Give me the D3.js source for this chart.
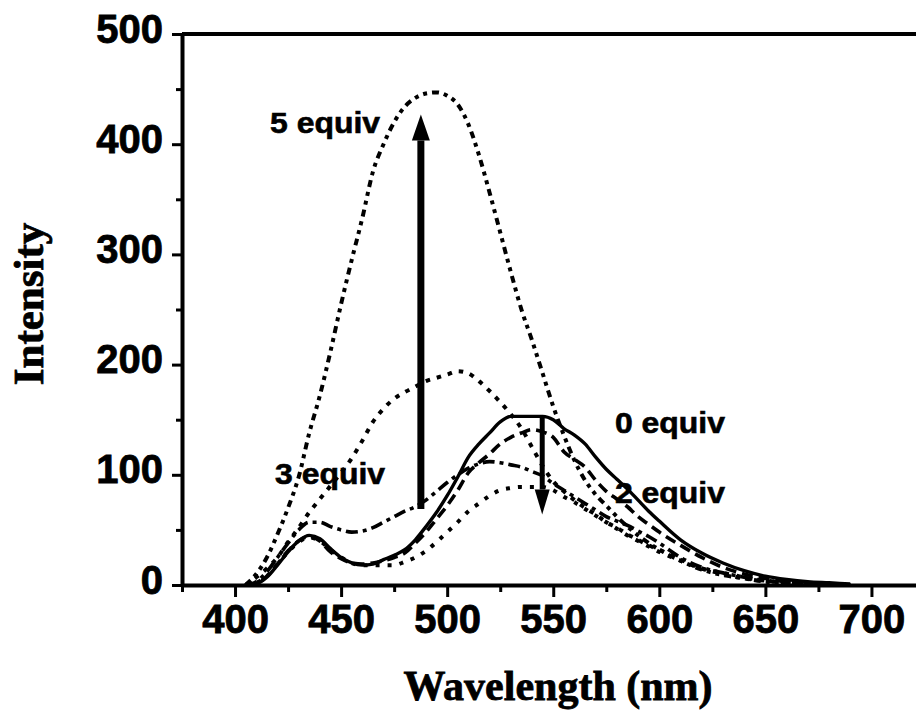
<!DOCTYPE html>
<html>
<head>
<meta charset="utf-8">
<script src="https://cdn.jsdelivr.net/npm/d3@7"></script>
<style>
  html, body { margin: 0; padding: 0; background: #fff; }
  svg { display: block; }
</style>
</head>
<body>
<svg id="chart" width="916" height="711"></svg>
<script>
// Wavelength grid (nm)
const wavelengths = [405,410,415,420,425,430,435,440,445,450,455,460,465,470,475,480,485,490,495,500,505,510,515,520,525,530,535,540,545,550,555,560,565,570,575,580,585,590,595,600,610,620,630,640,650,660,670,680,690];

const equiv0 = [0,1,7,18,30,40,45,42,33,25,20,18,19,23,27,32,41,53,66,81,98,116,128,138,148,153,153,153,153,150,142,136,128,116,105,96,87,77,67,58,41,29,20,13,8,5,3,2,1];
const equiv1 = [0,1,8,19,31,40,44,40,30,24,20,19,20,22,25,29,38,48,60,72,86,102,111,119,128,134,138,141,139,134,121,114,107,95,85,78,71,62,55,48,36,25,16,10,6,3,2,1,0];
const equiv2 = [0,2,8,19,30,39,43,40,32,25,20,18,18,18,18,21,25,31,39,48,57,67,74,81,86,88,89,89,89,86,80,75,69,63,57,51,45,40,35,30,22,15,11,7,4,2,1,0,0];
const equiv3 = [0,3,12,25,38,50,57,57,53,50,48,49,52,57,62,67,71,77,85,93,100,106,110,112,111,109,107,103,99,92,86,80,74,68,62,58,54,49,44,38,25,16,11,7,4,2,1,0,0];
const equiv4 = [0,7,15,25,39,52,66,78,90,102,115,131,148,160,169,175,180,185,188,191,194,192,185,176,166,155,142,125,108,94,85,77,70,64,57,52,46,41,36,32,23,15,10,6,4,2,1,0,0];
const equiv5 = [0,10,25,46,70,98,138,172,212,255,295,333,375,400,420,434,442,446,447,444,436,418,390,356,320,284,250,222,192,162,136,113,95,82,72,62,53,45,38,32,22,14,9,6,3,2,1,0,0];

const seriesNames = ["0 equiv","1 equiv","2 equiv","3 equiv","4 equiv","5 equiv"];
const seriesValues = [equiv0, equiv1, equiv2, equiv3, equiv4, equiv5];

const xMajorTicks = [400,450,500,550,600,650,700];
const xMinorTicks = [375,425,475,525,575,625,675];
const yMajorTicks = [0,100,200,300,400,500];
const yMinorTicks = [50,150,250,350,450];

const xTitle = "Wavelength (nm)";
const yTitle = "Intensity";

// annotation labels (wavelength, intensity at baseline-left)
const labelTexts = ["5 equiv","3 equiv","0 equiv","2 equiv"];
const labelWl    = [416.5, 418.9, 579.1, 579.1];
const labelInt   = [410, 92, 138, 74];

// arrows: [wavelength, from intensity, to intensity]
const arrowWl   = [487.6, 544.8];
const arrowFrom = [69, 152];
const arrowTo   = [427, 64];

// ---------------- drawing ----------------
const svg = d3.select("#chart");
const x = d3.scaleLinear().domain([375, 721]).range([182, 916]);
const y = d3.scaleLinear().domain([0, 500]).range([585, 34]);

const styles = [
  { dash: null, width: 3.4 },             // 0 equiv solid
  { dash: "11,6", width: 3.6 },           // 1 equiv dashed
  { dash: "4,8", width: 4 },              // 2 equiv dotted
  { dash: "12,5,4,5", width: 3.6 },       // 3 equiv dash-dot
  { dash: "4.5,7", width: 4 },            // 4 equiv sparse dots
  { dash: "7,5,4,5,4,5", width: 4 }       // 5 equiv dash-dot-dot
];

const line = d3.line()
  .x((d, i) => x(wavelengths[i]))
  .y(d => y(d))
  .curve(d3.curveMonotoneX);

const gLines = svg.append("g");
seriesValues.forEach((vals, k) => {
  gLines.append("path")
    .datum(vals)
    .attr("d", line)
    .attr("fill", "none")
    .attr("stroke", "#000")
    .attr("stroke-width", styles[k].width)
    .attr("stroke-dasharray", styles[k].dash)
    .attr("stroke-linejoin", "round");
});

// axes
const fontTick = "'Liberation Sans', Arial, sans-serif";
const xAxis = d3.axisBottom(x).tickValues(xMajorTicks).tickSize(12).tickSizeOuter(0).tickPadding(8).tickFormat(d3.format("d"));
const xAxisMinor = d3.axisBottom(x).tickValues(xMinorTicks).tickSize(7).tickSizeOuter(0).tickFormat("");
const yAxis = d3.axisLeft(y).tickValues(yMajorTicks).tickSize(10).tickSizeOuter(0).tickPadding(9).tickFormat(d3.format("d"));
const yAxisMinor = d3.axisLeft(y).tickValues(yMinorTicks).tickSize(6).tickSizeOuter(0).tickFormat("");

function styleAxis(g) {
  g.select(".domain").attr("stroke", "#000").attr("stroke-width", 4);
  g.selectAll(".tick line").attr("stroke", "#000").attr("stroke-width", 3);
  g.selectAll(".tick text")
    .attr("fill", "#000")
    .style("font-family", fontTick)
    .style("font-weight", "bold")
    .style("font-size", "40px")
    .attr("stroke", "#000")
    .attr("stroke-width", 0.8);
}

const gx = svg.append("g").attr("transform", `translate(0,${y(0)})`).call(xAxis).call(styleAxis);
const gxm = svg.append("g").attr("transform", `translate(0,${y(0)})`).call(xAxisMinor).call(styleAxis);
gxm.select(".domain").remove();
const gy = svg.append("g").attr("transform", `translate(${x(375)},0)`).call(yAxis).call(styleAxis);
gy.selectAll(".tick text").attr("dy", "0.2em");
const gym = svg.append("g").attr("transform", `translate(${x(375)},0)`).call(yAxisMinor).call(styleAxis);
gym.select(".domain").remove();

// top frame line
svg.append("line")
  .attr("x1", x(375)).attr("x2", x(721))
  .attr("y1", y(500)).attr("y2", y(500))
  .attr("stroke", "#000").attr("stroke-width", 4);

// axis titles
svg.append("text")
  .attr("x", 558).attr("y", 700)
  .attr("text-anchor", "middle")
  .style("font-family", "'Liberation Serif', 'Times New Roman', serif")
  .style("font-weight", "bold")
  .style("font-size", "42px")
  .attr("stroke", "#000").attr("stroke-width", 0.8)
  .text(xTitle);

svg.append("text")
  .attr("transform", "translate(43,304) rotate(-90)")
  .attr("text-anchor", "middle")
  .style("font-family", "'Liberation Serif', 'Times New Roman', serif")
  .style("font-weight", "bold")
  .style("font-size", "43px")
  .attr("stroke", "#000").attr("stroke-width", 0.8)
  .text(yTitle);

// annotation labels
labelTexts.forEach((t, i) => {
  svg.append("text")
    .attr("x", x(labelWl[i])).attr("y", y(labelInt[i]))
    .attr("textLength", 110)
    .attr("lengthAdjust", "spacingAndGlyphs")
    .style("font-family", fontTick)
    .style("font-weight", "bold")
    .style("font-size", "29px")
    .attr("stroke", "#000").attr("stroke-width", 0.6)
    .text(t);
});

// arrows
const arrowShaft = [7, 5];
const arrowHeadW = [18, 15];
const arrowHeadL = [26, 25];
arrowWl.forEach((wl, i) => {
  const ax = x(wl), y0 = y(arrowFrom[i]), y1 = y(arrowTo[i]);
  const dir = y1 < y0 ? -1 : 1;
  const base = y1 - dir * arrowHeadL[i];
  svg.append("line")
    .attr("x1", ax).attr("x2", ax)
    .attr("y1", y0).attr("y2", base)
    .attr("stroke", "#000").attr("stroke-width", arrowShaft[i]);
  svg.append("path")
    .attr("d", `M${ax},${y1} L${ax - arrowHeadW[i] / 2},${base} L${ax + arrowHeadW[i] / 2},${base} Z`)
    .attr("fill", "#000");
});
</script>
</body>
</html>
